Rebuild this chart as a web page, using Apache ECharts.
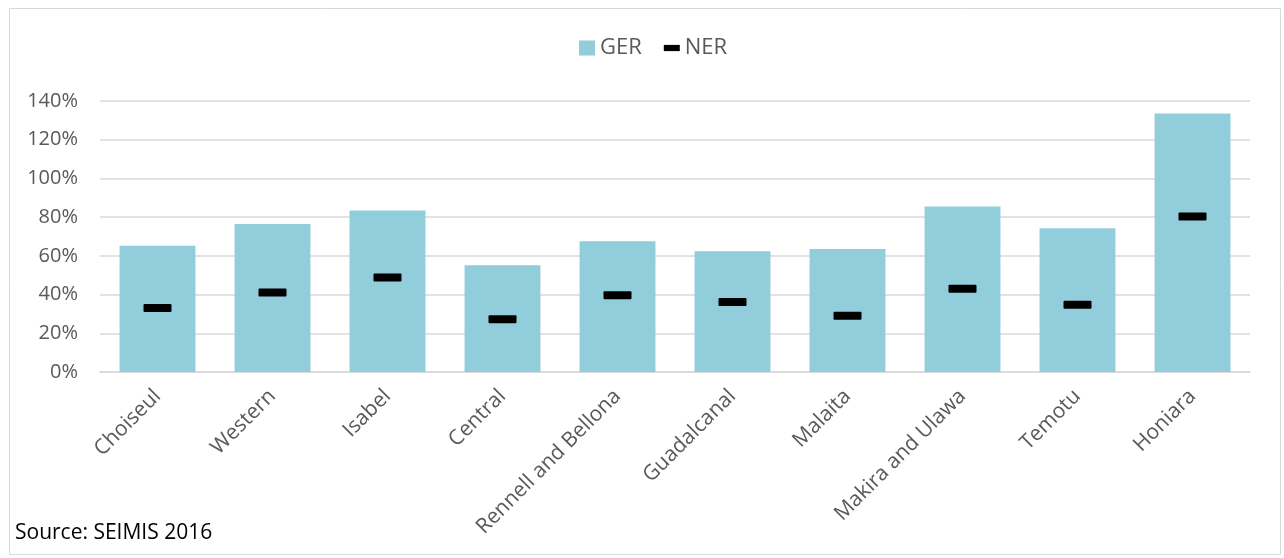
<!DOCTYPE html>
<html>
<head>
<meta charset="utf-8">
<script src="https://cdn.jsdelivr.net/npm/echarts@6/dist/echarts.min.js"></script>
<style>
  html, body { margin: 0; padding: 0; background: #fff; }
  #chart { width: 1284px; height: 558px; }
</style>
</head>
<body>
<div id="chart"></div>
<script>
// Provinces of Solomon Islands
const provinces = ['Choiseul', 'Western', 'Isabel', 'Central', 'Rennell and Bellona',
  'Guadalcanal', 'Malaita', 'Makira and Ulawa', 'Temotu', 'Honiara'];
// Gross enrolment ratio (%)
const ger = [65.2, 76.4, 83.4, 55.2, 67.6, 62.4, 63.5, 85.5, 74.3, 133.6];
// Net enrolment ratio (%)
const ner = [33.0, 41.1, 48.8, 27.2, 39.6, 36.1, 29.1, 43.0, 34.7, 80.3];
// Value axis ticks
const yTicks = [0, 20, 40, 60, 80, 100, 120, 140];

const font = '"Open Sans", "DejaVu Sans", sans-serif';
const chart = echarts.init(document.getElementById('chart'), null, { renderer: 'canvas' });

// Dash marker with slightly rounded corners
const dashPath = 'path://M1,0 L27,0 Q28,0 28,1 L28,7 Q28,8 27,8 L1,8 Q0,8 0,7 L0,1 Q0,0 1,0 Z';

chart.setOption({
  animation: false,
  backgroundColor: '#ffffff',
  textStyle: { fontFamily: font },
  graphic: [
    {
      type: 'rect', left: 7, top: 6, silent: true,
      shape: { width: 1271, height: 546 },
      style: { fill: 'none', stroke: '#d9d9d9', lineWidth: 1 }
    },
    {
      type: 'text', left: 15, top: 523,
      style: { text: 'Source: SEIMIS 2016', fill: '#000000', font: '21px ' + font }
    }
  ],
  legend: {
    top: 32,
    left: 574,
    itemGap: 22,
    itemWidth: 16,
    itemHeight: 15,
    textStyle: { color: '#595959', fontSize: 22, fontFamily: font },
    data: [
      { name: 'GER', icon: 'rect' },
      { name: 'NER', icon: 'path://M0,0 L18,0 L18,7 L0,7 Z' }
    ]
  },
  grid: { left: 100, right: 34, top: 101, bottom: 186, containLabel: false },
  xAxis: {
    type: 'category',
    data: provinces,
    axisLine: { lineStyle: { color: '#d9d9d9', width: 1.5 } },
    axisTick: { show: false },
    axisLabel: {
      rotate: 45, interval: 0, margin: 21,
      color: '#595959', fontSize: 21, fontFamily: font
    }
  },
  yAxis: {
    type: 'value',
    min: yTicks[0],
    max: yTicks[yTicks.length - 1],
    interval: 20,
    axisLine: { show: false },
    axisTick: { show: false },
    splitLine: { lineStyle: { color: '#d9d9d9', width: 1.5 } },
    axisLabel: {
      color: '#595959', fontSize: 20, fontFamily: font, margin: 22,
      formatter: v => v + '%'
    }
  },
  series: [
    {
      name: 'GER',
      type: 'bar',
      data: ger,
      barCategoryGap: '34%',
      itemStyle: { color: '#92cddc' },
      z: 2
    },
    {
      name: 'NER',
      type: 'scatter',
      data: ner,
      symbol: dashPath,
      symbolSize: [28, 8],
      itemStyle: { color: '#000000', opacity: 1 },
      z: 3
    }
  ]
});
</script>
</body>
</html>
